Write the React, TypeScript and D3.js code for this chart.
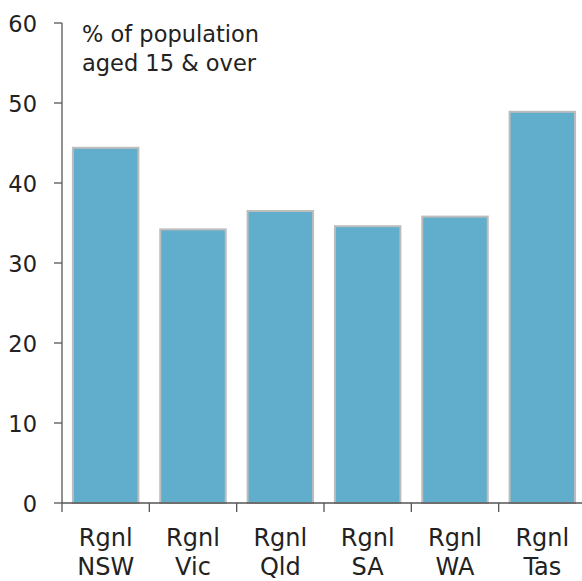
import React from "react";
import * as d3 from "d3";

const regions = ["NSW", "Vic", "Qld", "SA", "WA", "Tas"];
const values = [44.4, 34.2, 36.5, 34.6, 35.8, 48.9];
const yTicks = [0, 10, 20, 30, 40, 50, 60];
const noteLines = ["% of population", "aged 15 & over"];

const W = 582;
const H = 581;
const FONT = "'DejaVu Sans', sans-serif";

export default function App() {
  const x = d3.scaleBand<string>().domain(regions).range([62, 586]).paddingInner(0.25).paddingOuter(0.125);
  const y = d3.scaleLinear().domain([0, 60]).range([503, 23]);
  const step = x.step();
  const axisColor = "#555";
  return (
    <svg width={W} height={H} style={{ position: "absolute", left: 0, top: 0, background: "#fff" }}>
      {regions.map((r, i) => (
        <rect
          key={r}
          x={x(r)!}
          y={y(values[i])}
          width={x.bandwidth()}
          height={y(0) - y(values[i])}
          fill="#60aecb"
          stroke="#bdbdbd"
          strokeWidth={2}
        />
      ))}
      <line x1={62} x2={62} y1={23} y2={503} stroke={axisColor} strokeWidth={1.3} />
      <line x1={62} x2={586} y1={503} y2={503} stroke={axisColor} strokeWidth={1.3} />
      {yTicks.map((t) => (
        <g key={t}>
          <line x1={54} x2={62} y1={y(t)} y2={y(t)} stroke={axisColor} strokeWidth={1.3} />
          <text x={37} y={y(t) + 8.5} textAnchor="end" fontFamily={FONT} fontSize={22.5} fill="#222">
            {t}
          </text>
        </g>
      ))}
      {regions.map((r, i) => (
        <line key={"t" + r} x1={62 + i * step} x2={62 + i * step} y1={503} y2={512} stroke={axisColor} strokeWidth={1.3} />
      ))}
      {regions.map((r) => {
        const cx = x(r)! + x.bandwidth() / 2;
        return (
          <text key={"l" + r} textAnchor="middle" fontFamily={FONT} fontSize={24} fill="#222">
            <tspan x={cx} y={546}>Rgnl</tspan>
            <tspan x={cx} y={575}>{r}</tspan>
          </text>
        );
      })}
      <text fontFamily={FONT} fontSize={22.5} fill="#222">
        <tspan x={82} y={42}>{noteLines[0]}</tspan>
        <tspan x={82} y={71}>{noteLines[1]}</tspan>
      </text>
    </svg>
  );
}
